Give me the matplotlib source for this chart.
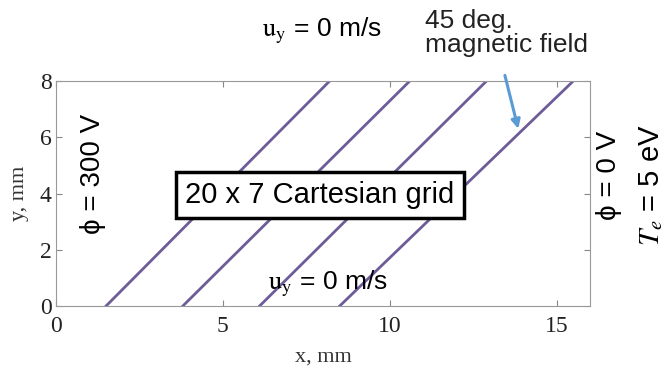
import matplotlib.pyplot as plt

# field lines (start x at y=0, end x at y=8), mm
x_start = [1.5, 3.8, 6.1, 8.5]
x_end = [8.2, 10.6, 12.9, 15.5]
y_start = 0
y_end = 8

xticks = [0, 5, 10, 15]
yticks = [0, 2, 4, 6, 8]

serif = 'Liberation Serif'
sans = 'Liberation Sans'

fig = plt.figure(figsize=(6.68, 3.74), dpi=100)
ax = fig.add_axes([56 / 668, 1 - 306 / 374, 534 / 668, 225 / 374])

for xs, xe in zip(x_start, x_end):
    ax.plot([xs, xe], [y_start, y_end], color='#6e5c99', lw=2)

ax.set_xlim(0, 16)
ax.set_ylim(0, 8)
ax.set_xticks(xticks)
ax.set_yticks(yticks)
ax.tick_params(direction='in', top=True, right=True, length=4, color='#888888',
               labelsize=17, labelcolor='#222222')
ax.tick_params(axis='x', pad=7)
ax.tick_params(axis='y', pad=3)
for lbl in ax.get_xticklabels() + ax.get_yticklabels():
    lbl.set_fontfamily(serif)
for s in ax.spines.values():
    s.set_color('#999999')

ax.set_xlabel('x, mm', fontfamily=serif, fontsize=16, color='#333333', labelpad=8)
ax.set_ylabel('y, mm', fontfamily=serif, fontsize=16, color='#333333', labelpad=8)

# boundary conditions
fig.text(322 / 668, 1 - 31 / 374, r'$\mathrm{u_y}$ = 0 m/s', ha='center', va='center',
         fontsize=19, fontfamily=sans, math_fontfamily='stix')
fig.text(328 / 668, 1 - 284 / 374, r'$\mathrm{u_y}$ = 0 m/s', ha='center', va='center',
         fontsize=19, fontfamily=sans, math_fontfamily='stix')
fig.text(93 / 668, 1 - 174 / 374, 'ϕ = 300 V', rotation=90, ha='center', va='center',
         fontsize=20, fontfamily=sans)
fig.text(609 / 668, 1 - 175 / 374, 'ϕ = 0 V', rotation=90, ha='center', va='center',
         fontsize=20, fontfamily=sans)
fig.text(651 / 668, 1 - 185 / 374, r'$T_e$ = 5 eV', rotation=90, ha='center', va='center',
         fontsize=21, fontfamily=sans, math_fontfamily='stix')

fig.text(320 / 668, 1 - 195 / 374, '20 x 7 Cartesian grid', ha='center', va='center',
         fontsize=21, fontfamily=sans,
         bbox=dict(boxstyle='square,pad=0.32', fc='white', ec='black', lw=2.5))

fig.text(425 / 668, 1 - 33 / 374, '45 deg.\nmagnetic field', ha='left', va='center',
         fontsize=19, fontfamily=sans, linespacing=1.0, color='#222222')
ax.annotate('', xy=(13.85, 6.3), xytext=(13.45, 8.2),
            arrowprops=dict(arrowstyle='-|>', color='#5b9bd5', lw=2.2, mutation_scale=13,
                            shrinkA=0, shrinkB=0),
            annotation_clip=False)

fig.savefig('out.png', dpi=100)
